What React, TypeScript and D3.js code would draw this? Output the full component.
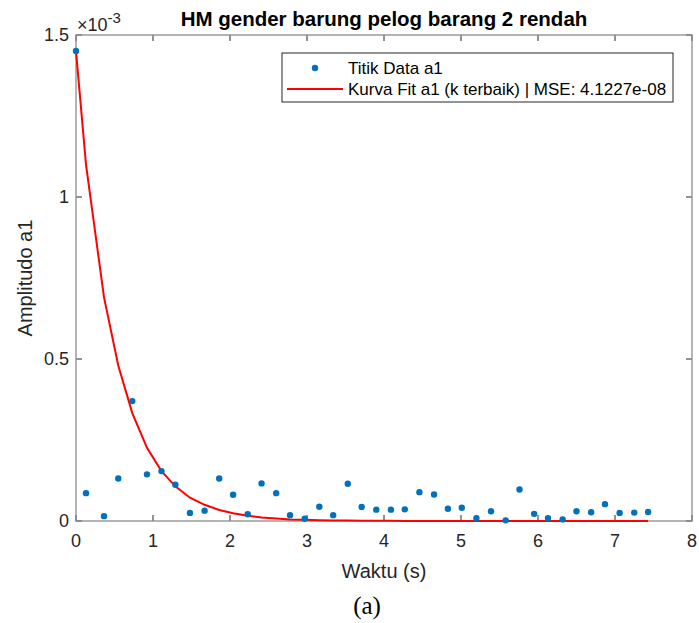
import React from "react";
import * as d3 from "d3";

const tData = [0, 0.13, 0.364, 0.549, 0.731, 0.922, 1.11, 1.29, 1.48, 1.67, 1.86, 2.04, 2.23, 2.41, 2.6, 2.78, 2.97, 3.16, 3.34, 3.53, 3.71, 3.9, 4.09, 4.27, 4.46, 4.65, 4.83, 5.01, 5.2, 5.39, 5.58, 5.76, 5.95, 6.13, 6.32, 6.5, 6.69, 6.87, 7.06, 7.25, 7.43];
// amplitude in units of 1e-3
const aData = [1.451, 0.086, 0.015, 0.131, 0.37, 0.144, 0.154, 0.112, 0.025, 0.032, 0.131, 0.081, 0.021, 0.116, 0.086, 0.018, 0.007, 0.044, 0.018, 0.115, 0.043, 0.035, 0.035, 0.036, 0.089, 0.082, 0.038, 0.041, 0.009, 0.03, 0.002, 0.097, 0.022, 0.009, 0.005, 0.03, 0.027, 0.052, 0.025, 0.026, 0.028];
const fitData = [1.45, 1.1, 0.69, 0.48, 0.333, 0.226, 0.154, 0.107, 0.072, 0.05, 0.034, 0.024, 0.016, 0.011, 0.0075, 0.005, 0.0036, 0.0025, 0.0017, 0.0012, 0.0008, 0.0006, 0.0004, 0.0003, 0.0002, 0.0001, 0.0001, 0.0001, 0, 0, 0, 0, 0, 0, 0, 0, 0, 0, 0, 0, 0];
const xTicks = [0, 1, 2, 3, 4, 5, 6, 7, 8];
const yTicks = [0, 0.5, 1, 1.5];
const yTickLabels = ["0", "0.5", "1", "1.5"];

const title = "HM gender barung pelog barang 2 rendah";
const xLabel = "Waktu (s)";
const yLabel = "Amplitudo a1";
const legendData = "Titik Data a1";
const legendFit = "Kurva Fit a1 (k terbaik) | MSE: 4.1227e-08";
const caption = "(a)";

export default function App() {
  const W = 699, H = 623;
  const L = 76, R = 692, T = 35, B = 521;
  const x = d3.scaleLinear().domain([0, 8]).range([L, R]);
  const y = d3.scaleLinear().domain([0, 1.5]).range([B, T]);
  const line = d3.line<number>().x((_, i) => x(tData[i])).y((d) => y(d));
  const font = "Liberation Sans, Arial, Helvetica, sans-serif";
  const tc = "#262626";
  const tl = 6;
  return (
    <svg width={W} height={H} style={{ position: "absolute", left: 0, top: 0, background: "#fff" }} fontFamily={font}>
      <rect x={0} y={0} width={W} height={H} fill="#fff" />
      {/* ticks */}
      {xTicks.map((t) => (
        <g key={"xt" + t}>
          <line x1={x(t)} x2={x(t)} y1={B} y2={B - tl} stroke={tc} strokeWidth={1} />
          <line x1={x(t)} x2={x(t)} y1={T} y2={T + tl} stroke={tc} strokeWidth={1} />
          <text x={x(t)} y={547} textAnchor="middle" fontSize={18} fill={tc}>{t}</text>
        </g>
      ))}
      {yTicks.map((t, i) => (
        <g key={"yt" + t}>
          <line x1={L} x2={L + tl} y1={y(t)} y2={y(t)} stroke={tc} strokeWidth={1} />
          <line x1={R} x2={R - tl} y1={y(t)} y2={y(t)} stroke={tc} strokeWidth={1} />
          <text x={69} y={y(t) + 6} textAnchor="end" fontSize={18} fill={tc}>{yTickLabels[i]}</text>
        </g>
      ))}
      <rect x={L} y={T} width={R - L} height={B - T} fill="none" stroke="#8c8c8c" strokeWidth={1.3} />
      {/* exponent */}
      <text x={77} y={31} fontSize={18} fill={tc}>×10<tspan dy={-8} fontSize={15}>-3</tspan></text>
      {/* fit curve */}
      <path d={line(fitData) || ""} fill="none" stroke="#ff0000" strokeWidth={2} />
      {/* data points */}
      {aData.map((v, i) => (
        <circle key={"p" + i} cx={x(tData[i])} cy={y(v)} r={3.2} fill="#0072BD" />
      ))}
      {/* legend */}
      <rect x={282} y={53} width={391} height={49} fill="#fff" stroke="#262626" strokeWidth={1} />
      <circle cx={315} cy={68} r={3.2} fill="#0072BD" />
      <text x={348} y={74} fontSize={17} fill="#000">{legendData}</text>
      <line x1={287} x2={343} y1={89} y2={89} stroke="#ff0000" strokeWidth={2} />
      <text x={348} y={95} fontSize={17} fill="#000">{legendFit}</text>
      {/* title */}
      <text x={(L + R) / 2} y={26} textAnchor="middle" fontSize={20.5} fontWeight="bold" fill="#000">{title}</text>
      {/* axis labels */}
      <text x={(L + R) / 2} y={578} textAnchor="middle" fontSize={20} fill={tc}>{xLabel}</text>
      <text transform={`translate(32, ${(T + B) / 2}) rotate(-90)`} textAnchor="middle" fontSize={20} fill={tc}>{yLabel}</text>
      <text x={367} y={614} textAnchor="middle" fontSize={25} fontFamily="Liberation Serif, Times New Roman, serif" fill="#000">{caption}</text>
    </svg>
  );
}
